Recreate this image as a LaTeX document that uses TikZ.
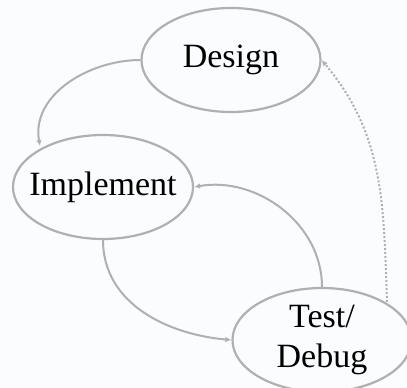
\documentclass[tikz,border=0pt]{standalone}
\usepackage{fontspec}
\setmainfont{Liberation Serif}
\usetikzlibrary{shapes.geometric,arrows.meta}
\definecolor{edgegray}{HTML}{B0B0B0}
\definecolor{paper}{HTML}{FBFCFD}
\begin{document}
\begin{tikzpicture}[x=1pt,y=1pt]
            \tikzset{Phase/.style={%
                    shape=ellipse,%
                    draw=edgegray,%
                    line width=2.2pt,%
                    minimum width=179pt,%
                    minimum height=104pt,%
                    inner sep=0pt,%
                    align=center,%
                    font=\fontsize{34}{40}\selectfont,%
                }}
            \tikzset{Step/.style={%
                    draw=edgegray,%
                    line width=2pt,%
                    -{Latex[length=6pt,width=5.5pt]},%
                }}
                \fill[paper] (0,0) rectangle (407,388);
                \useasboundingbox (0,0) rectangle (407,388);

                \node[Phase] (design) at (231,328) {Design};
                \node[Phase, inner xsep=-10pt] (impl) at (103,201) {Implement};
                \node[Phase] (test) at (322,48) {Test/\\Debug};

                \path (design.west) edge[Step, out=180, in=100] (40,242);
                \path (impl.south) edge[Step, out=-90, in=175] (test.west);
                \path (test.north) edge[Step, out=90, in=10] (impl.east);
                \path (387,86) edge[Step, dash pattern=on 2pt off 2pt, out=92, in=-50] (design.east);
        \end{tikzpicture}
\end{document}
